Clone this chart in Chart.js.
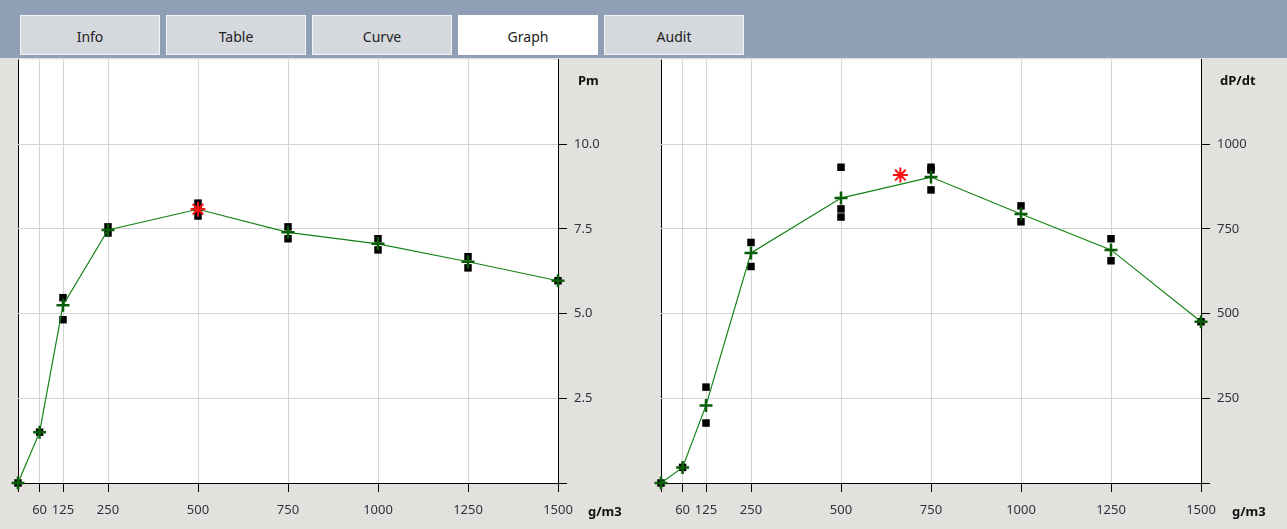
<!DOCTYPE html>
<html>
<head>
<meta charset="utf-8">
<script src="https://cdn.jsdelivr.net/npm/chart.js@4.4.1/dist/chart.umd.min.js"></script>
<style>
  html, body { margin: 0; padding: 0; }
  body {
    width: 1287px; height: 529px; position: relative; overflow: hidden;
    background: #e2e1dd; font-family: "Noto Sans", "DejaVu Sans", sans-serif;
  }
  .band { position: absolute; left: 0; top: 0; width: 1287px; height: 58px; background: #8f9fb5; }
  .tab {
    position: absolute; top: 15px; width: 140px; height: 40px; box-sizing: border-box;
    background: #d5d8dc; border: 1px solid #f2f3f5; color: #222;
    font-size: 14px; line-height: 41px; text-align: center;
  }
  .tab.active { background: #fff; border-color: #fff; }
  .box { position: absolute; top: 50px; width: 640px; height: 479px; }
  .title { position: absolute; font-size: 13px; font-weight: bold; color: #111; }
</style>
</head>
<body>
<div class="band"></div>
<div class="tab" style="left:20px">Info</div>
<div class="tab" style="left:166px">Table</div>
<div class="tab" style="left:312px">Curve</div>
<div class="tab active" style="left:458px">Graph</div>
<div class="tab" style="left:604px">Audit</div>

<div class="box" style="left:0px"><canvas id="pmChart"></canvas></div>
<div class="box" style="left:643px"><canvas id="dpChart"></canvas></div>

<div class="title" style="left:578px; top:71px">Pm</div>
<div class="title" style="left:1220px; top:71px">dP/dt</div>
<div class="title" style="left:588px; top:502px">g/m3</div>
<div class="title" style="left:1232px; top:502px">g/m3</div>

<script>
// dust concentrations (g/m3) used as x ticks
const concentrations = [0, 60, 125, 250, 500, 750, 1000, 1250, 1500];

// Pm: mean per concentration, single runs, maximum
const pmMean = [0, 1.5, 5.25, 7.47, 8.08, 7.40, 7.06, 6.53, 5.97];
const pmRunConc = [0, 60, 125, 125, 250, 250, 500, 500, 500, 750, 750, 1000, 1000, 1250, 1250, 1500];
const pmRunVal = [0, 1.5, 5.47, 4.82, 7.56, 7.38, 8.26, 8.06, 7.88, 7.56, 7.21, 7.21, 6.88, 6.68, 6.35, 5.97];
const pmPeak = [500, 8.08];
const pmTicks = [0, 2.5, 5, 7.5, 10];

// dP/dt: mean per concentration, single runs, maximum
const dpMean = [0, 46, 229, 679, 841, 903, 794, 688, 476];
const dpRunConc = [0, 60, 125, 125, 250, 250, 500, 500, 500, 750, 750, 750, 1000, 1000, 1250, 1250, 1500];
const dpRunVal = [0, 46, 283, 177, 710, 639, 932, 809, 785, 932, 924, 865, 818, 771, 721, 656, 476];
const dpPeak = [665, 909];
const dpTicks = [0, 250, 500, 750, 1000];

const whitePlot = {
  id: "whitePlot",
  beforeDraw(chart) {
    const a = chart.chartArea;
    const ctx = chart.ctx;
    ctx.save();
    ctx.fillStyle = "#ffffff";
    ctx.fillRect(a.left, a.top, a.right - a.left, a.bottom - a.top);
    ctx.restore();
  }
};

function noPad(scale) {
  scale.paddingTop = 0;
  scale.paddingBottom = 0;
  scale.paddingLeft = 0;
  scale.paddingRight = 0;
}

function makeChart(id, mean, runConc, runVal, peak, yMax, yTicks, yLabel) {
  const runs = runConc.map((c, i) => ({ x: c, y: runVal[i] }));
  const means = concentrations.map((c, i) => ({ x: c, y: mean[i] }));
  return new Chart(document.getElementById(id), {
    type: "scatter",
    data: {
      datasets: [
        {
          label: "max",
          data: [{ x: peak[0], y: peak[1] }],
          pointStyle: "star",
          pointRadius: 7.5,
          borderColor: "#ff1010",
          borderWidth: 2,
          backgroundColor: "#ff1010",
          clip: false,
        },
        {
          label: "mean",
          data: means,
          showLine: true,
          borderColor: "rgb(20,130,20)",
          borderWidth: 1.2,
          pointStyle: "cross",
          pointRadius: 6.5,
          pointBorderColor: "#0a5e0a",
          pointBorderWidth: 2.5,
          backgroundColor: "#0a5e0a",
          clip: false,
        },
        {
          label: "runs",
          data: runs,
          pointStyle: "rect",
          pointRadius: 5.3,
          pointBorderWidth: 0,
          backgroundColor: "#000",
          borderColor: "#000",
          clip: false,
        },
      ],
    },
    options: {
      responsive: true,
      maintainAspectRatio: false,
      animation: false,
      events: [],
      layout: { padding: { left: 18, top: 0, right: 0, bottom: 0 } },
      plugins: { legend: { display: false }, tooltip: { enabled: false } },
      scales: {
        x: {
          type: "linear",
          min: 0,
          max: 1500,
          afterBuildTicks: (scale) => { scale.ticks = concentrations.map((v) => ({ value: v })); },
          afterFit: (scale) => { scale.height = 46; noPad(scale); },
          ticks: {
            autoSkip: false,
            maxRotation: 0,
            padding: 10,
            color: "#2b3440",
            font: { family: "Noto Sans", size: 13 },
            callback: (v) => (v === 0 ? "" : String(v)),
          },
          grid: {
            color: (ctx) => (ctx.tick && ctx.tick.value === 0 ? "#000" : "#d4d4d4"),
            tickColor: "#000",
            tickLength: 9,
          },
          border: { color: "#000" },
        },
        y: {
          position: "right",
          min: 0,
          max: yMax,
          afterBuildTicks: (scale) => { scale.ticks = yTicks.map((v) => ({ value: v })); },
          afterFit: (scale) => { scale.width = 82; noPad(scale); },
          ticks: {
            padding: 7,
            color: "#2b3440",
            font: { family: "Noto Sans", size: 13 },
            callback: (v) => (v === 0 ? "" : yLabel(v)),
          },
          grid: {
            color: (ctx) => (ctx.tick && ctx.tick.value === 0 ? "#000" : "#d4d4d4"),
            tickColor: "#000",
            tickLength: 9,
          },
          border: { color: "#000" },
        },
      },
    },
    plugins: [whitePlot],
  });
}

makeChart("pmChart", pmMean, pmRunConc, pmRunVal, pmPeak, 12.5, pmTicks, (v) => v.toFixed(1));
makeChart("dpChart", dpMean, dpRunConc, dpRunVal, dpPeak, 1250, dpTicks, (v) => String(v));
</script>
</body>
</html>
